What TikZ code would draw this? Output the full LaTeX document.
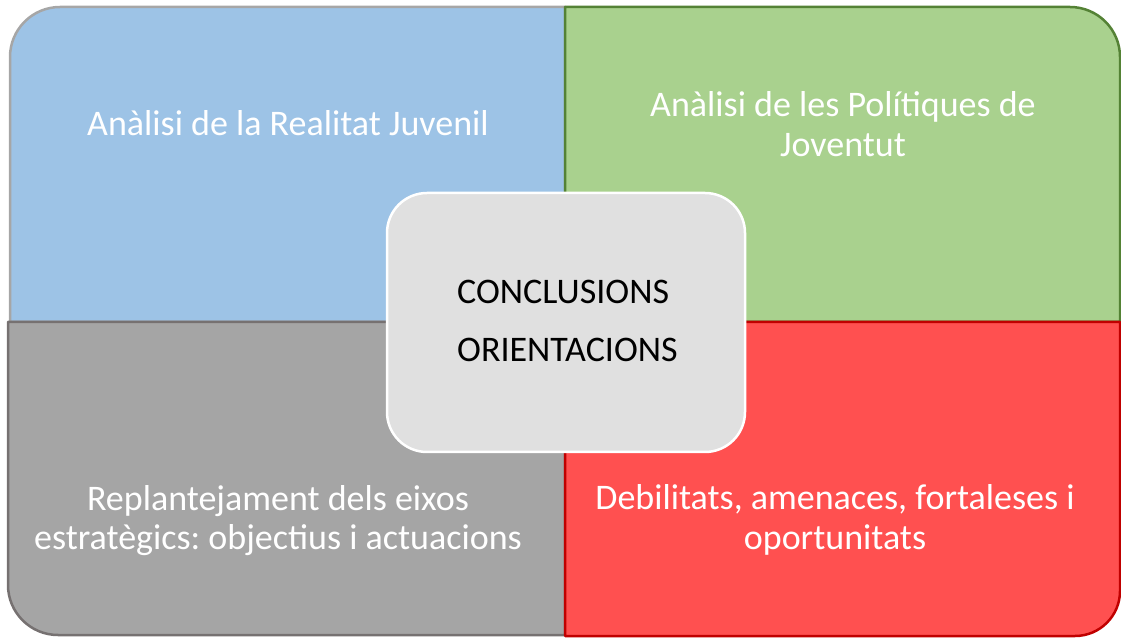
\documentclass[tikz,border=0pt]{standalone}
\usepackage{fontspec}
\setmainfont{Carlito}
\frenchspacing
\definecolor{qblue}{HTML}{9DC3E6}
\definecolor{qblueb}{HTML}{A6A6A6}
\definecolor{qgreen}{HTML}{A9D18E}
\definecolor{qgreenb}{HTML}{548235}
\definecolor{qgray}{HTML}{A5A5A5}
\definecolor{qgrayb}{HTML}{767171}
\definecolor{qred}{HTML}{FF5050}
\definecolor{qredb}{HTML}{C00000}
\definecolor{cfill}{HTML}{E0E0E0}
\begin{document}
\begin{tikzpicture}[x=1pt,y=1pt,
  quad/.style={line width=2.5pt,line join=round},
  qtext/.style={text=white,font=\fontsize{36}{40}\selectfont,align=center,anchor=base,inner sep=0pt},
  ctext/.style={text=black,font=\fontsize{36}{58}\selectfont,align=left,anchor=base west,inner sep=0pt}]
\useasboundingbox (0,0) rectangle (1121,637);
% quadrants
\draw[quad,fill=qblue,draw=qblueb] (565,315) -- (10,315) -- (10,580) arc[start angle=180,end angle=90,radius=50] -- (565,630) -- cycle;
\draw[quad,fill=qgreen,draw=qgreenb] (565,315) -- (565,630) -- (1070,630) arc[start angle=90,end angle=0,radius=50] -- (1120,315) -- cycle;
\draw[quad,fill=qgray,draw=qgrayb] (565,315) -- (8,315) -- (8,52) arc[start angle=180,end angle=270,radius=50] -- (565,2) -- cycle;
\draw[quad,fill=qred,draw=qredb] (565,315) -- (565,1) -- (1075,1) arc[start angle=270,end angle=360,radius=45] -- (1120,46) -- (1120,315) -- cycle;
% center
\node[draw=white,line width=2.5pt,fill=cfill,rounded corners=40pt,minimum width=358pt,minimum height=259pt,inner sep=0pt] (c) at (566,314.5) {};
% texts (anchor = baseline of last line)
\node[qtext] (t1) at (288,501) {Anàlisi de la Realitat Juvenil};
\node[qtext] (t2) at (843,480) {Anàlisi de les Polítiques de\\Joventut};
\node[qtext] (t3) at (278,87) {Replantejament dels eixos\\estratègics: objectius i actuacions};
\node[qtext] (t4) at (835,88) {Debilitats, amenaces, fortaleses i\\oportunitats};
\node[ctext] (t5) at (457,275) {CONCLUSIONS\\ORIENTACIONS};
\end{tikzpicture}
\end{document}
